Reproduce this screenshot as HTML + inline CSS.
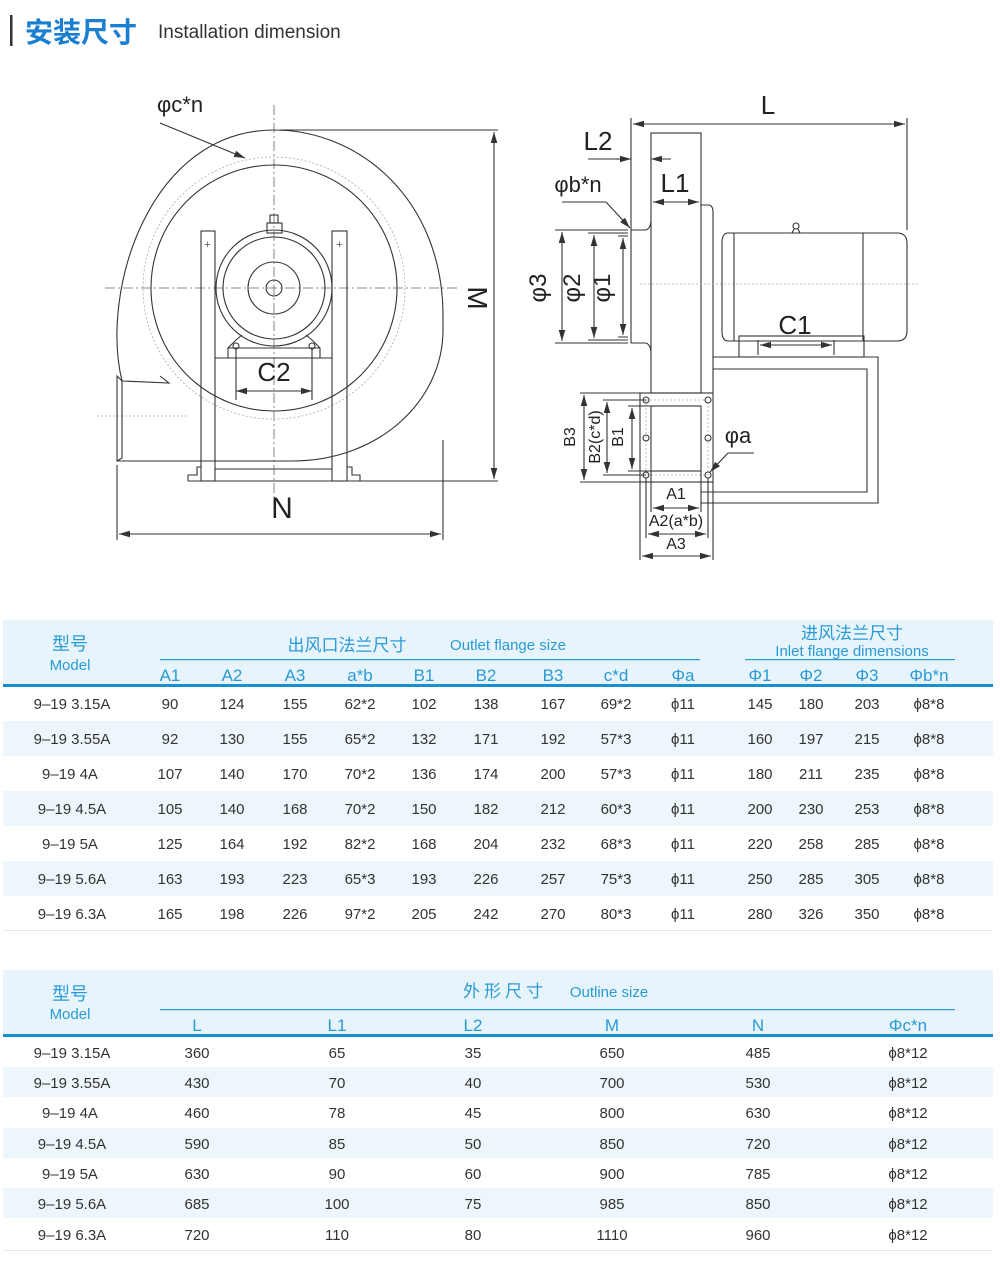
<!DOCTYPE html>
<html><head><meta charset="utf-8"><style>
html,body{margin:0;padding:0;background:#fff;}
svg{display:block;}
.d{fill:none;stroke:#333;stroke-width:1.1;}
.c{fill:none;stroke:#666;stroke-width:.8;stroke-dasharray:10 3 2 3;}
.dt{fill:none;stroke:#aaa;stroke-width:.8;stroke-dasharray:2 2;}
.lb{font-family:"Liberation Sans Narrow","Liberation Sans",sans-serif;fill:#222;}
.t{font-family:"Liberation Sans","Noto Sans CJK SC",sans-serif;font-size:15px;fill:#333;text-anchor:middle;}
.b{font-family:"Liberation Sans","Noto Sans CJK SC",sans-serif;fill:#2a9ad6;text-anchor:middle;}
</style></head><body>
<svg width="1000" height="1268" viewBox="0 0 1000 1268" xmlns="http://www.w3.org/2000/svg">
<defs><marker id="a" markerWidth="10" markerHeight="6" refX="10" refY="3" orient="auto-start-reverse"><path d="M0,0 L10,3 L0,6 z" fill="#333"/></marker></defs>
<!-- header -->
<rect x="10" y="15" width="2.5" height="31" fill="#333"/>
<text x="25" y="42" font-family="'Noto Sans CJK SC',sans-serif" font-weight="bold" font-size="28" fill="#1a7fd0">安装尺寸</text>
<text x="158" y="38" font-family="'Liberation Sans',sans-serif" font-size="19" fill="#333">Installation dimension</text>

<!-- LEFT DRAWING -->
<path class="c" d="M274,105 V505 M105,288 H458"/>
<path class="dt" d="M97,416 H187"/>
<path class="d" d="M122,381 C100,290 150,130 274,130 C360,130 443,200 443,316 L443,330 C443,400 380,461 292,461 L117,461"/>
<path class="d" d="M122,381 L169,383 L160,376"/>
<path class="d" d="M117,376 L122,381 L122,458 L117,461 Z"/>
<circle class="d" cx="274" cy="288" r="123"/>
<circle class="dt" cx="274" cy="288" r="131"/>
<circle class="d" cx="274" cy="288" r="58"/>
<circle class="d" cx="274" cy="288" r="51"/>
<circle class="d" cx="274" cy="288" r="26"/>
<circle class="d" cx="274" cy="288" r="8"/>
<rect class="d" x="267" y="223" width="15" height="10"/><rect class="d" x="270" y="215" width="8" height="8"/>
<rect class="d" x="201" y="231" width="14" height="250"/>
<rect class="d" x="332" y="231" width="15" height="250"/>
<text x="204" y="248" font-size="12" fill="#333">+</text><text x="336" y="248" font-size="12" fill="#333">+</text>
<path class="d" d="M215,358 H332 M215,469 H332 M188,481 H360 M188,481 V475 H197 V467 H201 M360,481 V475 H352 V467 H347"/>
<path class="d" d="M228,358 V348 L236,340 L242,335 M320,358 V348 L312,340 L306,335 M228,348 H320"/>
<circle class="d" cx="236" cy="346" r="3"/><circle class="d" cx="312" cy="346" r="3"/>
<path class="d" d="M236,349 V400 M312,349 V400"/>
<line class="d" x1="236" y1="391" x2="312" y2="391" marker-start="url(#a)" marker-end="url(#a)"/>
<text class="lb" x="274" y="381" font-size="26" text-anchor="middle">C2</text>
<path class="d" d="M280,130 H498 M360,481 H498 M117,465 V540 M443,440 V540"/>
<line class="d" x1="494" y1="132" x2="494" y2="479" marker-start="url(#a)" marker-end="url(#a)"/>
<text class="lb" x="0" y="0" font-size="28" transform="translate(468,298) rotate(90)" text-anchor="middle">M</text>
<line class="d" x1="119" y1="534" x2="441" y2="534" marker-start="url(#a)" marker-end="url(#a)"/>
<text class="lb" x="282" y="518" font-size="30" text-anchor="middle">N</text>
<text class="lb" x="157" y="112" font-size="22">φc*n</text>
<line class="d" x1="160" y1="123" x2="245" y2="158" marker-end="url(#a)"/>

<!-- RIGHT DRAWING -->
<path class="d" d="M631,118 V343 M907,118 V230"/>
<line class="d" x1="633" y1="124" x2="905" y2="124" marker-start="url(#a)" marker-end="url(#a)"/>
<text class="lb" x="768" y="114" font-size="26" text-anchor="middle">L</text>
<rect class="d" x="651" y="133" width="50" height="260"/>
<path class="d" d="M701,205 H708 Q713,205 713,212 V393"/>
<path class="d" d="M631,230 H646 Q651,228 651,220 M631,343 H646 Q651,345 651,353"/>
<path class="d" d="M555,230 H628 M555,343 H628 M588,233 H628 M588,340 H628 M618,236 H628 M618,337 H628"/>
<line class="d" x1="562" y1="232" x2="562" y2="341" marker-start="url(#a)" marker-end="url(#a)"/>
<line class="d" x1="594" y1="235" x2="594" y2="338" marker-start="url(#a)" marker-end="url(#a)"/>
<line class="d" x1="623" y1="238" x2="623" y2="335" marker-start="url(#a)" marker-end="url(#a)"/>
<text class="lb" font-size="24" transform="translate(546,288) rotate(-90)" text-anchor="middle">φ3</text>
<text class="lb" font-size="24" transform="translate(580,288) rotate(-90)" text-anchor="middle">φ2</text>
<text class="lb" font-size="24" transform="translate(610,288) rotate(-90)" text-anchor="middle">φ1</text>
<path class="d" d="M588,159 H629 M653,159 H671"/>
<line class="d" x1="615" y1="159" x2="631" y2="159" marker-end="url(#a)"/>
<line class="d" x1="668" y1="159" x2="651" y2="159" marker-end="url(#a)"/>
<text class="lb" x="598" y="150" font-size="26" text-anchor="middle">L2</text>
<line class="d" x1="653" y1="202" x2="699" y2="202" marker-start="url(#a)" marker-end="url(#a)"/>
<text class="lb" x="675" y="192" font-size="26" text-anchor="middle">L1</text>
<text class="lb" x="578" y="192" font-size="22" text-anchor="middle">φb*n</text>
<line class="d" x1="562" y1="202" x2="606" y2="202"/>
<line class="d" x1="606" y1="202" x2="630" y2="228" marker-end="url(#a)"/>
<path class="dt" d="M640,284 H920"/>
<path class="d" d="M728,233 H897 Q907,233 907,243 V331 Q907,341 897,341 H728 Q722,341 722,331 V243 Q722,233 728,233 Z M734,233 V341 M863,233 V341"/>
<circle class="d" cx="796" cy="226" r="3"/><path class="d" d="M792,233 L794,229 M800,233 L798,229"/>
<rect class="d" x="739" y="336" width="125" height="21" fill="#fff"/>
<path class="d" d="M758,340 V355 M834,340 V355"/>
<line class="d" x1="760" y1="345" x2="832" y2="345" marker-start="url(#a)" marker-end="url(#a)"/>
<text class="lb" x="795" y="334" font-size="26" text-anchor="middle">C1</text>
<path class="d" d="M713,357 H878 V503 H701 M713,369 H867 V492 H701"/>
<rect class="d" x="640" y="393" width="73" height="89"/>
<rect class="d" x="651" y="406" width="50" height="65"/>
<rect class="dt" x="646" y="400" width="62" height="75"/>
<g class="d"><circle cx="646" cy="400" r="3"/><circle cx="708" cy="400" r="3"/><circle cx="646" cy="438" r="3"/><circle cx="708" cy="438" r="3"/><circle cx="646" cy="475" r="3"/><circle cx="708" cy="475" r="3"/></g>
<path class="d" d="M580,393 H640 M603,400 H646 M628,406 H651 M628,471 H651 M603,475 H646 M580,482 H640"/>
<path class="d" d="M640,482 V560 M713,482 V560 M646,478 V538 M708,478 V538 M651,471 V512 M701,471 V512"/>
<line class="d" x1="584" y1="395" x2="584" y2="480" marker-start="url(#a)" marker-end="url(#a)"/>
<line class="d" x1="607" y1="402" x2="607" y2="473" marker-start="url(#a)" marker-end="url(#a)"/>
<line class="d" x1="632" y1="408" x2="632" y2="469" marker-start="url(#a)" marker-end="url(#a)"/>
<text class="lb" font-size="16" transform="translate(575,437) rotate(-90)" text-anchor="middle">B3</text>
<text class="lb" font-size="16" transform="translate(600,437) rotate(-90)" text-anchor="middle">B2(c*d)</text>
<text class="lb" font-size="16" transform="translate(623,437) rotate(-90)" text-anchor="middle">B1</text>
<line class="d" x1="653" y1="508" x2="699" y2="508" marker-start="url(#a)" marker-end="url(#a)"/>
<line class="d" x1="648" y1="534" x2="706" y2="534" marker-start="url(#a)" marker-end="url(#a)"/>
<line class="d" x1="642" y1="556" x2="711" y2="556" marker-start="url(#a)" marker-end="url(#a)"/>
<text class="lb" x="676" y="499" font-size="16" text-anchor="middle">A1</text>
<text class="lb" x="676" y="526" font-size="16" text-anchor="middle">A2(a*b)</text>
<text class="lb" x="676" y="549" font-size="16" text-anchor="middle">A3</text>
<text class="lb" x="738" y="443" font-size="22" text-anchor="middle">φa</text>
<line class="d" x1="754" y1="453" x2="728" y2="453"/>
<line class="d" x1="728" y1="453" x2="710" y2="472" marker-end="url(#a)"/>

<!-- TABLE 1 -->
<rect x="3" y="620" width="990" height="64" fill="#e7f4fb"/>
<rect x="3" y="721" width="990" height="35" fill="#edf6fb"/>
<rect x="3" y="791" width="990" height="35" fill="#edf6fb"/>
<rect x="3" y="861" width="990" height="35" fill="#edf6fb"/>
<rect x="3" y="930" width="990" height="1" fill="#e3e8ec"/>
<rect x="3" y="684" width="990" height="3" fill="#1a8fd0"/>
<rect x="160" y="659" width="540" height="1.2" fill="#2a9ad6"/>
<rect x="745" y="659" width="210" height="1.2" fill="#2a9ad6"/>
<text class="b" x="70" y="650" font-size="18">型号</text>
<text class="b" x="70" y="670" font-size="15">Model</text>
<text class="b" x="347" y="651" font-size="17">出风口法兰尺寸</text>
<text class="b" x="508" y="650" font-size="15">Outlet flange size</text>
<text class="b" x="852" y="639" font-size="17">进风法兰尺寸</text>
<text class="b" x="852" y="656" font-size="15">Inlet flange dimensions</text>
<g class="b" font-size="17">
<text x="170" y="681">A1</text><text x="232" y="681">A2</text><text x="295" y="681">A3</text><text x="360" y="681">a*b</text><text x="424" y="681">B1</text><text x="486" y="681">B2</text><text x="553" y="681">B3</text><text x="616" y="681">c*d</text><text x="683" y="681">Φa</text><text x="760" y="681">Φ1</text><text x="811" y="681">Φ2</text><text x="867" y="681">Φ3</text><text x="929" y="681">Φb*n</text>
</g>
<g class="t">
<text y="709"><tspan x="72">9–19 3.15A</tspan><tspan x="170">90</tspan><tspan x="232">124</tspan><tspan x="295">155</tspan><tspan x="360">62*2</tspan><tspan x="424">102</tspan><tspan x="486">138</tspan><tspan x="553">167</tspan><tspan x="616">69*2</tspan><tspan x="683">ϕ11</tspan><tspan x="760">145</tspan><tspan x="811">180</tspan><tspan x="867">203</tspan><tspan x="929">ϕ8*8</tspan></text>
<text y="744"><tspan x="72">9–19 3.55A</tspan><tspan x="170">92</tspan><tspan x="232">130</tspan><tspan x="295">155</tspan><tspan x="360">65*2</tspan><tspan x="424">132</tspan><tspan x="486">171</tspan><tspan x="553">192</tspan><tspan x="616">57*3</tspan><tspan x="683">ϕ11</tspan><tspan x="760">160</tspan><tspan x="811">197</tspan><tspan x="867">215</tspan><tspan x="929">ϕ8*8</tspan></text>
<text y="779"><tspan x="70">9–19 4A</tspan><tspan x="170">107</tspan><tspan x="232">140</tspan><tspan x="295">170</tspan><tspan x="360">70*2</tspan><tspan x="424">136</tspan><tspan x="486">174</tspan><tspan x="553">200</tspan><tspan x="616">57*3</tspan><tspan x="683">ϕ11</tspan><tspan x="760">180</tspan><tspan x="811">211</tspan><tspan x="867">235</tspan><tspan x="929">ϕ8*8</tspan></text>
<text y="814"><tspan x="72">9–19 4.5A</tspan><tspan x="170">105</tspan><tspan x="232">140</tspan><tspan x="295">168</tspan><tspan x="360">70*2</tspan><tspan x="424">150</tspan><tspan x="486">182</tspan><tspan x="553">212</tspan><tspan x="616">60*3</tspan><tspan x="683">ϕ11</tspan><tspan x="760">200</tspan><tspan x="811">230</tspan><tspan x="867">253</tspan><tspan x="929">ϕ8*8</tspan></text>
<text y="849"><tspan x="70">9–19 5A</tspan><tspan x="170">125</tspan><tspan x="232">164</tspan><tspan x="295">192</tspan><tspan x="360">82*2</tspan><tspan x="424">168</tspan><tspan x="486">204</tspan><tspan x="553">232</tspan><tspan x="616">68*3</tspan><tspan x="683">ϕ11</tspan><tspan x="760">220</tspan><tspan x="811">258</tspan><tspan x="867">285</tspan><tspan x="929">ϕ8*8</tspan></text>
<text y="884"><tspan x="72">9–19 5.6A</tspan><tspan x="170">163</tspan><tspan x="232">193</tspan><tspan x="295">223</tspan><tspan x="360">65*3</tspan><tspan x="424">193</tspan><tspan x="486">226</tspan><tspan x="553">257</tspan><tspan x="616">75*3</tspan><tspan x="683">ϕ11</tspan><tspan x="760">250</tspan><tspan x="811">285</tspan><tspan x="867">305</tspan><tspan x="929">ϕ8*8</tspan></text>
<text y="919"><tspan x="72">9–19 6.3A</tspan><tspan x="170">165</tspan><tspan x="232">198</tspan><tspan x="295">226</tspan><tspan x="360">97*2</tspan><tspan x="424">205</tspan><tspan x="486">242</tspan><tspan x="553">270</tspan><tspan x="616">80*3</tspan><tspan x="683">ϕ11</tspan><tspan x="760">280</tspan><tspan x="811">326</tspan><tspan x="867">350</tspan><tspan x="929">ϕ8*8</tspan></text>
</g>

<!-- TABLE 2 -->
<rect x="3" y="970" width="990" height="64" fill="#e7f4fb"/>
<rect x="3" y="1067" width="990" height="30" fill="#edf6fb"/>
<rect x="3" y="1128" width="990" height="30" fill="#edf6fb"/>
<rect x="3" y="1188" width="990" height="30" fill="#edf6fb"/>
<rect x="3" y="1250" width="990" height="1" fill="#e3e8ec"/>
<rect x="3" y="1034" width="990" height="3" fill="#1a8fd0"/>
<rect x="160" y="1009" width="795" height="1.2" fill="#2a9ad6"/>
<text class="b" x="70" y="1000" font-size="18">型号</text>
<text class="b" x="70" y="1019" font-size="15">Model</text>
<text class="b" x="505" y="997" font-size="17" letter-spacing="4">外形尺寸</text>
<text class="b" x="609" y="997" font-size="15">Outline size</text>
<g class="b" font-size="17">
<text x="197" y="1031">L</text><text x="337" y="1031">L1</text><text x="473" y="1031">L2</text><text x="612" y="1031">M</text><text x="758" y="1031">N</text><text x="908" y="1031">Φc*n</text>
</g>
<g class="t">
<text y="1058"><tspan x="72">9–19 3.15A</tspan><tspan x="197">360</tspan><tspan x="337">65</tspan><tspan x="473">35</tspan><tspan x="612">650</tspan><tspan x="758">485</tspan><tspan x="908">ϕ8*12</tspan></text>
<text y="1088"><tspan x="72">9–19 3.55A</tspan><tspan x="197">430</tspan><tspan x="337">70</tspan><tspan x="473">40</tspan><tspan x="612">700</tspan><tspan x="758">530</tspan><tspan x="908">ϕ8*12</tspan></text>
<text y="1118"><tspan x="70">9–19 4A</tspan><tspan x="197">460</tspan><tspan x="337">78</tspan><tspan x="473">45</tspan><tspan x="612">800</tspan><tspan x="758">630</tspan><tspan x="908">ϕ8*12</tspan></text>
<text y="1149"><tspan x="72">9–19 4.5A</tspan><tspan x="197">590</tspan><tspan x="337">85</tspan><tspan x="473">50</tspan><tspan x="612">850</tspan><tspan x="758">720</tspan><tspan x="908">ϕ8*12</tspan></text>
<text y="1179"><tspan x="70">9–19 5A</tspan><tspan x="197">630</tspan><tspan x="337">90</tspan><tspan x="473">60</tspan><tspan x="612">900</tspan><tspan x="758">785</tspan><tspan x="908">ϕ8*12</tspan></text>
<text y="1209"><tspan x="72">9–19 5.6A</tspan><tspan x="197">685</tspan><tspan x="337">100</tspan><tspan x="473">75</tspan><tspan x="612">985</tspan><tspan x="758">850</tspan><tspan x="908">ϕ8*12</tspan></text>
<text y="1240"><tspan x="72">9–19 6.3A</tspan><tspan x="197">720</tspan><tspan x="337">110</tspan><tspan x="473">80</tspan><tspan x="612">1110</tspan><tspan x="758">960</tspan><tspan x="908">ϕ8*12</tspan></text>
</g>
</svg>
</body></html>
